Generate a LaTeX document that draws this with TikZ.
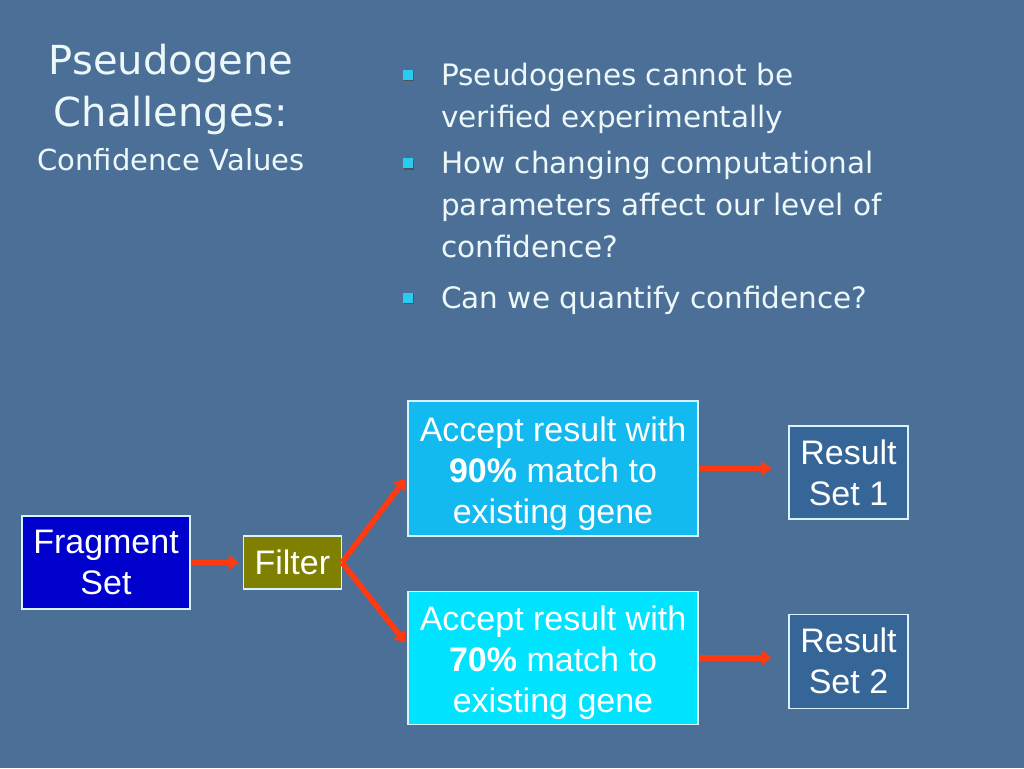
\documentclass[tikz,border=0pt]{standalone}
\usepackage{fontspec}
\setmainfont{Liberation Sans}
\newfontfamily\tahomafont{DejaVu Sans}
\usetikzlibrary{arrows.meta,positioning,shadows}

\definecolor{slidebg}{RGB}{76,111,151}
\definecolor{slidetext}{RGB}{236,248,250}
\definecolor{fragblue}{RGB}{0,0,204}
\definecolor{filterolive}{RGB}{128,128,0}
\definecolor{skyfill}{RGB}{18,186,240}
\definecolor{cyanfill}{RGB}{0,228,255}
\definecolor{resultfill}{RGB}{54,102,152}
\definecolor{flowred}{RGB}{255,58,16}
\definecolor{bulletcyan}{RGB}{40,204,240}

\newcommand{\boxtop}{\rule{0pt}{35pt}}

\tikzset{
  box/.style={draw=white!85!cyan, line width=1.3pt, text=white, align=center,
              inner sep=0pt, font=\fontsize{34}{41}\selectfont},
  flow/.style={-{Triangle[length=10pt,width=15pt]}, draw=flowred, line width=5.5pt},
  point/.style={anchor=north west, inner sep=0pt, align=left,
                text=slidetext, font=\tahomafont\fontsize{29.5}{42}\selectfont},
  square/.style={fill=bulletcyan, minimum size=10pt, inner sep=0pt,
                 drop shadow={shadow xshift=1.6pt, shadow yshift=-1.6pt,
                              fill=black!70, opacity=0.8}}
}

\begin{document}
\begin{tikzpicture}[x=1pt,y=-1pt]

  \fill[slidebg] (0,0) rectangle (1024,768);
  \useasboundingbox (0,0) rectangle (1024,768);

  % title
  \node[anchor=north, inner sep=0pt, align=center, text=slidetext,
        font=\tahomafont\fontsize{40}{52}\selectfont] (title) at (171,44)
        {Pseudogene\\Challenges:};
  \node[below=13pt of title, inner sep=0pt, text=slidetext,
        font=\tahomafont\fontsize{29}{36}\selectfont] (subtitle)
        {Confidence Values};

  % bullets
  \node[point] (b1) at (441,55.6)                                {\strut Pseudogenes cannot be\\verified experimentally\strut};
  \node[point] (b2) [below=4pt of b1.south west, anchor=north west] {\strut How changing computational\\parameters affect our level of\\confidence?\strut};
  \node[point] (b3) [below=8pt of b2.south west, anchor=north west] {\strut Can we quantify confidence?\strut};

  \node[square] (s1) [below left=14pt and 28pt of b1.north west] {};
  \node[square] (s2) [below left=14pt and 28pt of b2.north west] {};
  \node[square] (s3) [below left=14pt and 28pt of b3.north west] {};

  % flow
  \node[box, fill=fragblue, minimum width=168pt, minimum height=93pt] (frag) at (106,562.5)
        {Fragment\\Set};
  \node[box, fill=filterolive, minimum width=98pt, minimum height=53pt] (filt) [right=52pt of frag]
        {Filter};
  \node[box, fill=skyfill, minimum width=290pt, minimum height=135pt] (acc90) at (553,468.5)
        {\boxtop Accept result with\\\textbf{90\%} match to\\existing gene};
  \node[box, fill=cyanfill, minimum width=290pt, minimum height=133pt] (acc70) [below=54pt of acc90]
        {\boxtop Accept result with\\\textbf{70\%} match to\\existing gene};
  \node[box, fill=resultfill, minimum width=119pt, minimum height=93pt] (res1) at (848.5,472.5)
        {Result\\Set 1};
  \node[box, fill=resultfill, minimum width=119pt, minimum height=94pt] (res2) [below=94pt of res1]
        {Result\\Set 2};

  \draw[flow, shorten >=4pt] (frag) -- (filt);
  \draw[flow, shorten >=3pt] (filt.east) -- ([yshift=-8pt]acc90.west);
  \draw[flow, shorten >=3pt] (filt.east) -- ([yshift=13pt]acc70.west);
  \draw[flow, shorten >=17pt] (acc90.east) -- (acc90.east -| res1.west);
  \draw[flow, shorten >=17pt] (acc70.east) -- (acc70.east -| res2.west);

\end{tikzpicture}
\end{document}
